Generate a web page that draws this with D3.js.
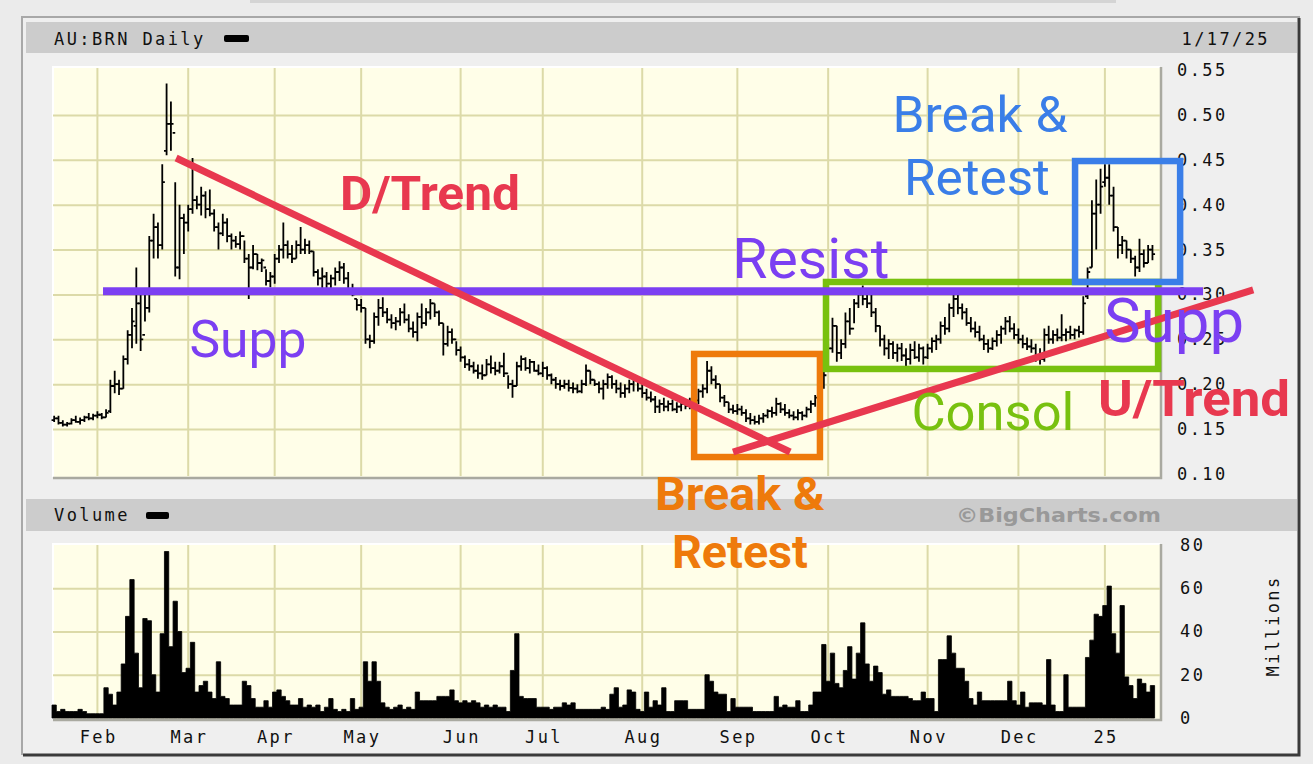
<!DOCTYPE html>
<html><head><meta charset="utf-8">
<script src="https://cdn.jsdelivr.net/npm/d3@7"></script>
<style>
body{margin:0;background:#ebebeb;overflow:hidden}
svg{display:block}
.mono{font-family:"DejaVu Sans Mono",monospace;font-size:17px;letter-spacing:2.4px;fill:#111}
</style></head><body>
<svg id="c" width="1313" height="764"></svg>
<script>
// ---------- DATA ----------
const tradingStart = "2024-01-17", tradingEnd = "2025-01-17";
const holidays = ["2024-01-26","2024-03-29","2024-04-01","2024-04-25","2024-06-10","2024-12-25","2024-12-26","2025-01-01"];
const monthLabels = ["Feb","Mar","Apr","May","Jun","Jul","Aug","Sep","Oct","Nov","Dec","25"];
const priceTicks = [0.10,0.15,0.20,0.25,0.30,0.35,0.40,0.45,0.50,0.55];
const volumeTicks = [0,20,40,60,80];

const highs = [
.165,.165,.160,.158,.162,.165,.163,.165,.168,.167,
.170,.168,.172,.205,.215,.205,.232,.260,.285,.330,
.300,.300,.365,.390,.380,.445,.535,.515,.425,.400,
.390,.400,.452,.410,.420,.415,.417,.395,.380,.390,
.385,.368,.365,.370,.360,.345,.355,.345,.340,.328,
.325,.345,.355,.380,.360,.355,.360,.375,.362,.360,
.348,.328,.330,.325,.322,.330,.337,.335,.325,.312,
.295,.295,.285,.255,.280,.295,.297,.285,.278,.275,
.285,.290,.278,.270,.280,.290,.285,.295,.290,.282,
.268,.265,.262,.248,.242,.232,.228,.225,.222,.222,
.228,.232,.225,.225,.235,.210,.205,.225,.232,.230,
.228,.226,.222,.225,.220,.212,.208,.205,.205,.205,
.202,.200,.205,.222,.215,.205,.203,.205,.212,.210,
.205,.202,.200,.205,.208,.205,.200,.195,.192,.187,
.183,.185,.182,.183,.180,.182,.183,.185,.188,.195,
.200,.226,.220,.210,.200,.188,.180,.177,.178,.176,
.172,.168,.165,.166,.168,.172,.175,.185,.180,.178,
.172,.170,.172,.170,.175,.182,.188,.205,.215,.245,
.274,.265,.250,.280,.285,.295,.305,.310,.305,.300,
.285,.265,.255,.250,.248,.245,.246,.240,.245,.248,
.245,.242,.245,.252,.255,.270,.275,.290,.305,.302,
.290,.285,.275,.270,.265,.255,.250,.252,.260,.265,
.275,.276,.268,.262,.255,.252,.250,.245,.240,.262,
.265,.260,.262,.278,.262,.265,.262,.265,.298,.330,
.405,.428,.440,.445,.445,.420,.375,.365,.360,.350,
.343,.362,.350,.355,.355];
const lows = [
.158,.155,.153,.153,.155,.157,.155,.158,.160,.160,
.162,.161,.163,.168,.190,.188,.195,.222,.240,.245,
.237,.270,.280,.340,.340,.350,.455,.460,.320,.317,
.345,.370,.390,.395,.388,.385,.387,.370,.350,.365,
.358,.350,.352,.350,.335,.295,.328,.327,.325,.310,
.308,.312,.335,.340,.340,.335,.340,.345,.345,.345,
.320,.310,.305,.300,.305,.310,.315,.312,.300,.298,
.282,.280,.245,.240,.245,.265,.275,.268,.262,.260,
.265,.268,.258,.252,.248,.262,.265,.272,.275,.265,
.232,.242,.245,.232,.225,.218,.215,.212,.206,.205,
.210,.212,.210,.212,.208,.195,.185,.198,.215,.215,
.212,.214,.210,.208,.205,.200,.195,.193,.195,.192,
.190,.190,.190,.198,.200,.198,.190,.183,.195,.195,
.190,.185,.185,.190,.192,.192,.185,.182,.180,.168,
.168,.170,.170,.170,.168,.170,.172,.172,.175,.178,
.185,.190,.200,.195,.180,.175,.168,.167,.166,.165,
.158,.155,.155,.155,.157,.162,.163,.165,.168,.165,
.162,.160,.160,.160,.163,.168,.175,.185,.195,.215,
.235,.225,.228,.240,.255,.268,.285,.288,.285,.275,
.258,.242,.232,.228,.228,.225,.226,.220,.222,.228,
.225,.222,.228,.235,.238,.245,.255,.258,.275,.278,
.272,.265,.258,.252,.248,.238,.235,.238,.242,.245,
.255,.258,.250,.245,.240,.238,.235,.225,.222,.225,
.245,.245,.248,.248,.248,.250,.250,.252,.255,.295,
.330,.350,.390,.420,.400,.370,.340,.345,.340,.335,
.320,.325,.330,.335,.338];
const opens = [
.160,.162,.157,.155,.156,.160,.158,.160,.163,.162,
.165,.166,.163,.170,.198,.200,.195,.228,.255,.265,
.290,.255,.285,.360,.375,.355,.460,.490,.480,.330,
.385,.380,.395,.405,.400,.410,.395,.390,.375,.368,
.380,.365,.360,.356,.365,.340,.330,.345,.335,.330,
.315,.320,.340,.350,.355,.345,.340,.355,.350,.355,
.348,.325,.318,.320,.312,.318,.325,.330,.318,.305,
.295,.288,.285,.250,.248,.275,.285,.280,.272,.268,
.270,.280,.272,.262,.258,.275,.268,.280,.290,.280,
.268,.245,.258,.250,.238,.230,.222,.220,.215,.212,
.210,.222,.218,.215,.220,.212,.200,.198,.220,.228,
.218,.225,.215,.212,.218,.210,.205,.200,.198,.200,
.196,.195,.192,.200,.215,.205,.200,.195,.200,.208,
.200,.195,.190,.195,.200,.205,.195,.190,.185,.183,
.175,.178,.175,.178,.172,.175,.178,.176,.180,.182,
.192,.195,.215,.205,.200,.185,.180,.172,.170,.172,
.168,.162,.160,.158,.162,.165,.170,.168,.178,.172,
.168,.165,.163,.168,.165,.172,.178,.185,.200,.215,
.240,.265,.235,.245,.270,.262,.290,.300,.295,.290,
.280,.265,.250,.240,.245,.235,.240,.232,.228,.238,
.230,.240,.230,.240,.248,.250,.265,.262,.285,.295,
.285,.280,.268,.262,.258,.250,.245,.240,.248,.255,
.262,.270,.262,.255,.250,.245,.242,.240,.230,.228,
.255,.250,.255,.252,.255,.258,.255,.260,.258,.298,
.330,.390,.400,.425,.430,.410,.375,.355,.360,.350,
.340,.330,.345,.335,.350];
const closes = [
.162,.157,.155,.156,.160,.158,.160,.163,.162,.165,
.166,.163,.168,.198,.200,.195,.228,.255,.270,.290,
.250,.285,.360,.375,.355,.425,.490,.490,.330,.385,
.380,.395,.405,.400,.410,.395,.390,.375,.368,.380,
.365,.360,.356,.365,.340,.330,.345,.335,.338,.315,
.320,.340,.350,.355,.345,.340,.355,.350,.355,.348,
.325,.318,.320,.312,.318,.325,.330,.318,.305,.300,
.288,.285,.250,.248,.275,.285,.280,.272,.268,.270,
.280,.272,.262,.258,.275,.268,.280,.290,.280,.268,
.245,.258,.250,.238,.230,.222,.220,.215,.212,.210,
.222,.218,.215,.220,.212,.200,.198,.220,.228,.218,
.225,.215,.212,.218,.210,.205,.200,.198,.200,.196,
.195,.192,.200,.215,.205,.200,.195,.200,.208,.200,
.195,.190,.195,.200,.205,.195,.190,.185,.183,.175,
.178,.175,.178,.172,.175,.178,.176,.180,.182,.192,
.195,.215,.205,.200,.185,.180,.172,.170,.172,.168,
.162,.160,.158,.162,.165,.170,.168,.178,.172,.168,
.165,.163,.168,.165,.172,.178,.185,.200,.210,.240,
.265,.235,.245,.270,.262,.290,.300,.295,.290,.280,
.265,.250,.240,.245,.235,.240,.232,.228,.238,.230,
.240,.230,.240,.248,.250,.265,.262,.285,.295,.285,
.280,.268,.262,.258,.250,.245,.240,.248,.255,.262,
.270,.262,.255,.250,.245,.242,.240,.230,.228,.255,
.250,.255,.252,.255,.258,.255,.260,.258,.290,.325,
.390,.400,.420,.430,.410,.375,.355,.360,.350,.340,
.330,.345,.335,.350,.345];
const volumes = [ // millions
6,3,4,3,3,3,4,3,2,2,
2,2,14,11,6,12,25,47,64,30,
14,46,45,20,12,39,77,33,54,40,
21,23,35,12,15,17,12,9,26,10,
9,6,6,6,17,15,9,5,5,8,
5,12,13,10,8,6,6,9,5,6,
5,6,3,5,9,4,3,4,3,9,
4,5,26,17,26,17,7,5,4,5,
6,4,5,4,12,8,8,8,8,10,
10,10,13,8,7,8,7,8,7,5,
6,5,6,5,5,3,22,39,10,9,
9,9,5,5,5,4,5,5,7,6,
7,4,4,4,4,4,4,5,4,11,
14,5,6,13,12,4,3,12,5,8,
6,14,3,3,8,8,8,4,4,4,
4,20,17,12,11,11,3,9,5,5,
5,5,3,3,3,3,3,10,5,6,
5,5,8,3,3,6,12,12,34,17,
30,16,14,22,33,18,30,44,25,17,
24,21,11,13,10,10,10,10,9,8,
8,12,9,9,3,27,27,38,30,23,
23,17,9,6,12,8,8,8,8,8,
8,17,8,6,12,5,7,7,7,6,
27,6,3,3,20,5,5,5,5,28,
36,48,47,52,61,39,30,52,19,15,
9,18,16,12,15];

// annotations: [trading-day index, price]
const trendLines = [
  {label:"D/Trend", from:[28.7,0.452], to:[170.7,0.1245], color:"#e8384f"},
  {label:"U/Trend", from:[157.5,0.1245], to:[277.8,0.305], color:"#e8384f"}
];
const levelLine = {label:"Supp/Resist", from:[11.8,0.3035], to:[266.2,0.3035], color:"#7b3ff2"};
const boxes = [
  {label:"Break & Retest (Sep)", x:[148.5,177.6], p:[0.2337,0.1189], color:"#ee7a0b"},
  {label:"Consol", x:[179.0,255.8], p:[0.3139,0.2170], color:"#78c10f"},
  {label:"Break & Retest (Jan)", x:[236.6,260.9], p:[0.4486,0.3139], color:"#3a7ee8"}
];
const notes = [
  {text:"D/Trend", at:[87.4,0.394], size:48, w:180, bold:true, color:"#e8384f"},
  {text:"U/Trend", at:[264.1,0.1646], size:50, w:192, bold:true, color:"#e8384f"},
  {text:"Resist", at:[175.5,0.3183], size:56, w:157, bold:false, color:"#7b3ff2"},
  {text:"Supp", at:[45.3,0.2303], size:52, w:117, bold:false, color:"#7b3ff2"},
  {text:"Supp", at:[259.5,0.2470], size:62, w:140, bold:false, color:"#7b3ff2"},
  {text:"Consol", at:[217.6,0.149], size:52, w:163, bold:false, color:"#78c10f"},
  {text:"Break &", at:[214.6,0.4809], size:50, w:175, bold:false, color:"#3a7ee8"},
  {text:"Retest", at:[213.9,0.4108], size:50, w:146, bold:false, color:"#3a7ee8"},
  {text:"Break &", at:[159.1,0.0599], size:46, w:170, bold:true, color:"#ee7a0b"},
  {text:"Retest", at:[159.1,-0.0047], size:46, w:136, bold:true, color:"#ee7a0b"}
];

// ---------- BUILD ----------
const parse = d3.utcParse("%Y-%m-%d"), fmt = d3.utcFormat("%Y-%m-%d");
const days = d3.utcDay.range(parse(tradingStart), d3.utcDay.offset(parse(tradingEnd),1))
  .filter(d => d.getUTCDay()!==0 && d.getUTCDay()!==6 && !holidays.includes(fmt(d))).map(fmt);
const rows = days.map((d,i)=>({date:d,o:opens[i],h:highs[i],l:lows[i],c:closes[i],v:volumes[i]}));
const monthStarts = days.filter((d,i)=> i>0 && d.slice(0,7)!==days[i-1].slice(0,7));

const svg = d3.select("#c");
const L = 53, R = 1160, pTop = 67, pBot = 477, vTop = 544, vBot = 719;
const step = 4.324, x0 = 52;
const x = d3.scaleBand().domain(days).range([x0, x0 + days.length*step]).padding(0);
const xi = d3.scaleLinear().domain([0, days.length]).range(x.range());
const cx = d => x(d) + x.bandwidth()/2;
const y = d3.scaleLinear().domain([0.10,0.55]).range([474,70]);
const yv = d3.scaleLinear().domain([0,80]).range([718,545]);

// page & panel
svg.append("rect").attr("width",1313).attr("height",764).attr("fill","#ebebeb");
svg.append("rect").attr("x",250).attr("y",0).attr("width",866).attr("height",3).attr("fill","#d4d4d4");
svg.append("rect").attr("x",22).attr("y",17).attr("width",1278).attr("height",738).attr("fill","#efefef");
svg.append("path").attr("d","M22,755V17H1300").attr("fill","none").attr("stroke","#a8a8a8").attr("stroke-width",2);
svg.append("path").attr("d","M1299,18V755H23").attr("fill","none").attr("stroke","#3a3a3a").attr("stroke-width",3);
// header bars
svg.append("rect").attr("x",26).attr("y",22).attr("width",1271).attr("height",31).attr("fill","#cccccc");
svg.append("rect").attr("x",26).attr("y",499).attr("width",1271).attr("height",32).attr("fill","#cccccc");

svg.append("text").attr("class","mono").attr("x",54).attr("y",45).text("AU:BRN Daily");
svg.append("rect").attr("x",224).attr("y",35).attr("width",25).attr("height",7).attr("rx",2).attr("fill","#000");
svg.append("text").attr("class","mono").attr("x",1270).attr("y",45).attr("text-anchor","end").text("1/17/25");
svg.append("text").attr("class","mono").attr("x",54).attr("y",521).text("Volume");
svg.append("rect").attr("x",146).attr("y",512).attr("width",23).attr("height",7).attr("rx",2).attr("fill","#000");
svg.append("text").attr("x",1161).attr("y",522).attr("text-anchor","end")
  .attr("font-family","DejaVu Sans, sans-serif").attr("font-weight","bold").attr("font-size",19)
  .attr("textLength",205).attr("lengthAdjust","spacingAndGlyphs").attr("fill","#999").text("©BigCharts.com");

// plot backgrounds
function plotBg(t,b){
  svg.append("rect").attr("x",L).attr("y",t).attr("width",R-L).attr("height",b-t).attr("fill","#fffee8");
  svg.append("path").attr("d",`M${L},${b}V${t}H${R}`).attr("fill","none").attr("stroke","#ffffff").attr("stroke-width",2);
  svg.append("path").attr("d",`M${R+1},${t}V${b+1}H${L}`).attr("fill","none").attr("stroke","#a9a9a0").attr("stroke-width",2.5);
}
plotBg(pTop,pBot); plotBg(vTop,vBot);

const gridColor = "#dcdaa8";
function vGrid(t,b){
  const g = svg.append("g").attr("transform",`translate(0,${b})`)
    .call(d3.axisBottom(x).tickValues(monthStarts).tickSize(-(b-t)).tickFormat(""));
  g.select(".domain").remove();
  g.selectAll("line").attr("stroke",gridColor).attr("stroke-width",2);
}
vGrid(pTop+1,pBot-1); vGrid(vTop+1,vBot-1);
const gp = svg.append("g").attr("transform",`translate(${L},0)`)
  .call(d3.axisRight(y).tickValues(priceTicks.filter(t=>t>0.1&&t<0.55)).tickSize(R-L).tickFormat(""));
gp.select(".domain").remove(); gp.selectAll("line").attr("stroke",gridColor).attr("stroke-width",2);
const gv = svg.append("g").attr("transform",`translate(${L},0)`)
  .call(d3.axisRight(yv).tickValues(volumeTicks.filter(t=>t>0&&t<80)).tickSize(R-L).tickFormat(""));
gv.select(".domain").remove(); gv.selectAll("line").attr("stroke",gridColor).attr("stroke-width",2);

// price OHLC bars
const bars = svg.append("g").attr("stroke","#000").attr("stroke-width",1.8).attr("fill","none");
bars.selectAll("path").data(rows).join("path")
  .attr("d",d=>{const c=cx(d.date);
    return `M${c},${y(d.h)}V${y(d.l)}M${c-2.6},${y(d.o)}H${c}M${c},${y(d.c)}H${c+2.6}`;});

// volume as solid step silhouette
const volArea = d3.area()
  .x(d=>d.x).y0(yv(0)).y1(d=>yv(d.v)).curve(d3.curveStepAfter);
const volPts = [];
rows.forEach(d=>{volPts.push({x:x(d.date),v:d.v});});
volPts.push({x:x(days[days.length-1])+x.bandwidth(), v:volumes[volumes.length-1]});
svg.append("path").datum(volPts).attr("d",volArea).attr("fill","#000")
  .attr("stroke","#000").attr("stroke-width",0.8);

// axes labels
const ay = svg.append("g").attr("transform",`translate(${R},0)`)
  .call(d3.axisRight(y).tickValues(priceTicks).tickSize(0).tickPadding(17).tickFormat(d3.format(".2f")));
ay.select(".domain").remove();
ay.selectAll("text").attr("class","mono").attr("font-family",null).attr("font-size",null);
const av = svg.append("g").attr("transform",`translate(${R},0)`)
  .call(d3.axisRight(yv).tickValues(volumeTicks).tickSize(0).tickPadding(20).tickFormat(d3.format("d")));
av.select(".domain").remove();
av.selectAll("text").attr("class","mono").attr("font-family",null).attr("font-size",null);
const ax = svg.append("g").attr("transform",`translate(0,${vBot+8})`)
  .call(d3.axisBottom(x).tickValues(monthStarts).tickSize(0).tickPadding(4).tickFormat((d,i)=>monthLabels[i]));
ax.select(".domain").remove();
ax.selectAll("text").attr("class","mono").attr("font-family",null).attr("font-size",null).attr("dx","1.2px");
svg.append("text").attr("class","mono").attr("transform","translate(1279,626) rotate(-90)")
  .attr("text-anchor","middle").text("Millions");

// ---------- ANNOTATIONS ----------
const ann = svg.append("g");
boxes.forEach(b=>{
  ann.append("rect").attr("x",xi(b.x[0])).attr("y",y(b.p[0]))
    .attr("width",xi(b.x[1])-xi(b.x[0])).attr("height",y(b.p[1])-y(b.p[0]))
    .attr("fill","none").attr("stroke",b.color).attr("stroke-width",6.5);
});
ann.append("line").attr("x1",xi(levelLine.from[0])).attr("y1",y(levelLine.from[1]))
  .attr("x2",xi(levelLine.to[0])).attr("y2",y(levelLine.to[1]))
  .attr("stroke",levelLine.color).attr("stroke-width",8);
trendLines.forEach(t=>{
  ann.append("line").attr("x1",xi(t.from[0])).attr("y1",y(t.from[1]))
    .attr("x2",xi(t.to[0])).attr("y2",y(t.to[1]))
    .attr("stroke",t.color).attr("stroke-width",7);
});
notes.forEach(n=>{
  ann.append("text").attr("x",xi(n.at[0])).attr("y",y(n.at[1]))
    .attr("text-anchor","middle").attr("font-family","Roboto, sans-serif")
    .attr("font-weight",n.bold?"bold":"normal").attr("font-size",n.size)
    .attr("textLength",n.w).attr("lengthAdjust","spacingAndGlyphs")
    .attr("fill",n.color).text(n.text);
});
</script></body></html>
